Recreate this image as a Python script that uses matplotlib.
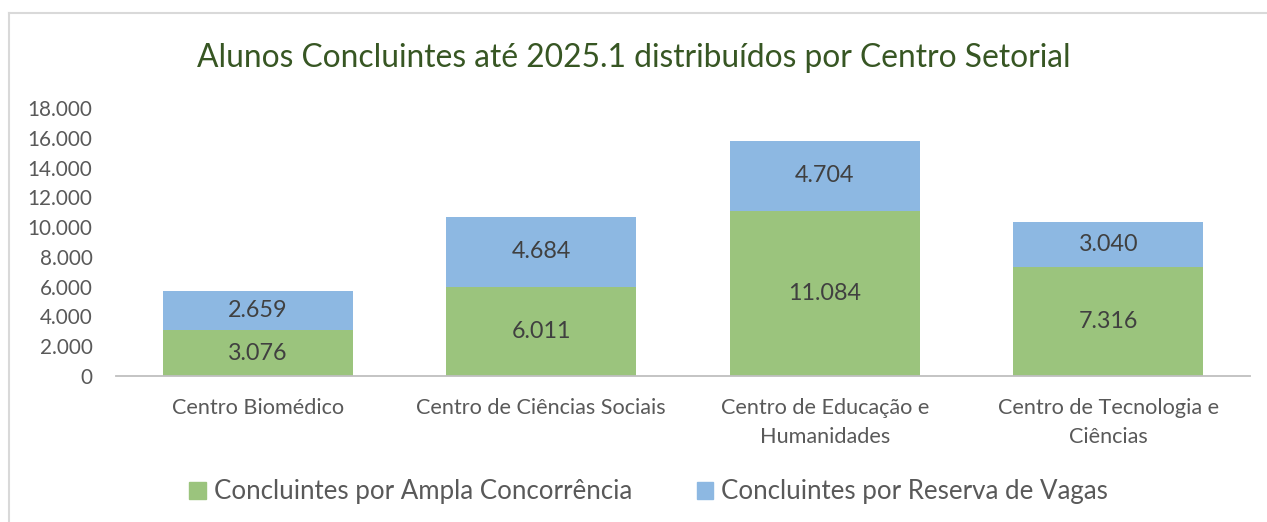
import numpy as np
import matplotlib
matplotlib.use('Agg')
import matplotlib.pyplot as plt
from matplotlib.lines import Line2D
from matplotlib.patches import Patch

categories = ["Centro Biomédico", "Centro de Ciências Sociais",
              "Centro de Educação e\nHumanidades", "Centro de Tecnologia e\nCiências"]
ampla = [3076, 6011, 11084, 7316]
reserva = [2659, 4684, 4704, 3040]
series_names = ["Concluintes por Ampla Concorrência", "Concluintes por Reserva de Vagas"]
yticks = list(range(0, 18001, 2000))

GREEN = '#9BC47D'
BLUE = '#8DB8E2'
TITLE_C = '#375623'
TXT = '#595959'
LBL = '#404040'

def fmt(v):
    return f"{v:,}".replace(",", ".")

matplotlib.rcParams['font.family'] = ['Lato', 'DejaVu Sans']

fig = plt.figure(figsize=(12.67, 5.22), dpi=100)
ax = fig.add_axes([0.0916, 0.2797, 0.895, 0.5133])

x = np.arange(len(categories))
w = 0.67
ax.bar(x, ampla, w, color=GREEN, label=series_names[0])
ax.bar(x, reserva, w, bottom=ampla, color=BLUE, label=series_names[1])

for i in range(len(x)):
    ax.text(x[i], ampla[i] / 2, fmt(ampla[i]), ha='center', va='center',
            fontsize=16.8, color=LBL)
    ax.text(x[i], ampla[i] + reserva[i] / 2, fmt(reserva[i]), ha='center', va='center',
            fontsize=16.8, color=LBL)

ax.set_xlim(-0.5, len(categories) - 0.5)
ax.set_ylim(0, 18000)
ax.set_yticks(yticks)
ax.set_yticklabels([fmt(v) for v in yticks], fontsize=14.9, color=TXT)
ax.set_xticks(x)
ax.set_xticklabels(categories, fontsize=15.6, color=TXT, linespacing=1.55)
ax.tick_params(axis='both', length=0)
ax.tick_params(axis='y', pad=17)
ax.tick_params(axis='x', pad=16)
for s in ['top', 'right', 'left']:
    ax.spines[s].set_visible(False)
ax.spines['bottom'].set_color('#BFBFBF')
ax.spines['bottom'].set_linewidth(1.3)

fig.text(0.5, 0.888, "Alunos Concluintes até 2025.1 distribuídos por Centro Setorial",
         ha='center', va='center', fontsize=22.9, color=TITLE_C)

handles = [Patch(color=GREEN), Patch(color=BLUE)]
fig.legend(handles, series_names, loc='center', bbox_to_anchor=(0.512, 0.058), ncol=2,
           frameon=False, fontsize=18.6, handlelength=0.65, handleheight=0.65,
           handletextpad=0.3, columnspacing=2.5, labelcolor=TXT)

# chart border (top & left edges visible)
fig.add_artist(Line2D([9 / 1267, 1.0], [1 - 13 / 522, 1 - 13 / 522], color='#D9D9D9', lw=1.5))
fig.add_artist(Line2D([9 / 1267, 9 / 1267], [0, 1 - 13 / 522], color='#D9D9D9', lw=1.5))

fig.savefig('out.png', dpi=100)
